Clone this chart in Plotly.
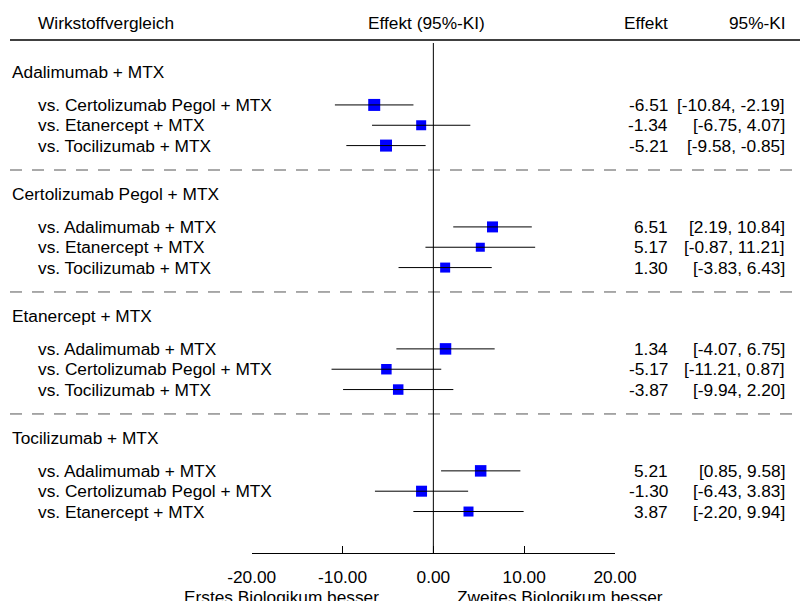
import plotly.graph_objects as go

# ---------------- data ----------------
groups = ["Adalimumab + MTX", "Certolizumab Pegol + MTX", "Etanercept + MTX", "Tocilizumab + MTX"]
comparisons = [
    ["vs. Certolizumab Pegol + MTX", "vs. Etanercept + MTX", "vs. Tocilizumab + MTX"],
    ["vs. Adalimumab + MTX", "vs. Etanercept + MTX", "vs. Tocilizumab + MTX"],
    ["vs. Adalimumab + MTX", "vs. Certolizumab Pegol + MTX", "vs. Tocilizumab + MTX"],
    ["vs. Adalimumab + MTX", "vs. Certolizumab Pegol + MTX", "vs. Etanercept + MTX"],
]
effect = [-6.51, -1.34, -5.21, 6.51, 5.17, 1.30, 1.34, -5.17, -3.87, 5.21, -1.30, 3.87]
ci_low = [-10.84, -6.75, -9.58, 2.19, -0.87, -3.83, -4.07, -11.21, -9.94, 0.85, -6.43, -2.20]
ci_high = [-2.19, 4.07, -0.85, 10.84, 11.21, 6.43, 6.75, 0.87, 2.20, 9.58, 3.83, 9.94]
tick_vals = [-20, -10, 0, 10, 20]
tick_text = ["-20.00", "-10.00", "0.00", "10.00", "20.00"]
header_left = "Wirkstoffvergleich"
header_mid = "Effekt (95%-KI)"
header_eff = "Effekt"
header_ci = "95%-KI"
label_left = "Erstes Biologikum besser"
label_right = "Zweites Biologikum besser"

# style: marker box sizes (px)
marker_px = [12, 10, 12, 11, 9, 10, 11.5, 10.5, 10.5, 11.5, 11, 10]

# ---------------- layout helpers ----------------
W, H = 800, 601
FONT = "Liberation Sans, Arial, sans-serif"
FS = 17.3
ROW_PX = 20.33
Y0_PX = 72.0       # pixel of first group header
AXIS_PX = 553.0    # pixel of x-axis line
GROUP_ROWS = 6
ITEM_OFF = 1.62


def px_to_row(p):
    return (p - Y0_PX) / ROW_PX


group_y = []
item_y = []
for g, comps in enumerate(comparisons):
    group_y.append(g * GROUP_ROWS)
    for k in range(len(comps)):
        item_y.append(g * GROUP_ROWS + ITEM_OFF + k)

fig = go.Figure()

# point estimates
fig.add_trace(go.Scatter(x=effect, y=item_y, mode="markers",
                         marker=dict(symbol="square", size=marker_px, color="#0000FF",
                                     opacity=1, line=dict(width=0)),
                         hoverinfo="skip", showlegend=False, cliponaxis=False))

# whiskers (drawn on top of the boxes)
wx, wy = [], []
for lo, hi, y in zip(ci_low, ci_high, item_y):
    wx += [lo, hi, None]
    wy += [y, y, None]
fig.add_trace(go.Scatter(x=wx, y=wy, mode="lines", line=dict(color="black", width=1),
                         hoverinfo="skip", showlegend=False, cliponaxis=False))

ann = []
def txt(x, y, s, xanchor="left", xref="paper", yref="y"):
    ann.append(dict(x=x, y=y, xref=xref, yref=yref, text=s, showarrow=False,
                    xanchor=xanchor, yanchor="middle",
                    font=dict(family=FONT, size=FS, color="black")))

# header
hy = px_to_row(23)
txt(36 / W, hy, header_left)
txt(427 / W, hy, header_mid, xanchor="center")
txt(670 / W, hy, header_eff, xanchor="right")
txt(788 / W, hy, header_ci, xanchor="right")

idx = 0
for g, comps in enumerate(comparisons):
    txt(10 / W, group_y[g], groups[g])
    for k, c in enumerate(comps):
        y = item_y[idx]
        txt(36 / W, y, c)
        txt(670 / W, y, f"{effect[idx]:.2f}", xanchor="right")
        txt(787 / W, y, f"[{ci_low[idx]:.2f}, {ci_high[idx]:.2f}]", xanchor="right")
        idx += 1

# bottom labels
txt(281 / W, (H - 597) / H, label_left, xanchor="center", yref="paper")
txt(560 / W, (H - 597) / H, label_right, xanchor="center", yref="paper")

shapes = []
# header rule
shapes.append(dict(type="line", xref="paper", yref="y", x0=10 / W, x1=800 / W,
                   y0=px_to_row(40), y1=px_to_row(40), line=dict(color="black", width=1.3)))
# dashed separators
for g in range(len(groups) - 1):
    yy = g * GROUP_ROWS + px_to_row(170)
    shapes.append(dict(type="line", xref="paper", yref="y", x0=10 / W, x1=800 / W,
                       y0=yy, y1=yy, line=dict(color="#555555", width=1, dash="12px,10px")))
# zero line
shapes.append(dict(type="line", xref="x", yref="y", x0=0, x1=0,
                   y0=px_to_row(43), y1=px_to_row(AXIS_PX), line=dict(color="black", width=1)))

fig.update_layout(
    width=W, height=H, autosize=False,
    margin=dict(l=0, r=0, t=0, b=0, pad=0, autoexpand=False),
    paper_bgcolor="white", plot_bgcolor="white",
    annotations=ann, shapes=shapes,
    font=dict(family=FONT, size=FS, color="black"),
    xaxis=dict(domain=[251.7 / W, 615.0 / W], range=[-20, 20], tickvals=tick_vals,
               ticktext=tick_text, ticks="inside", ticklen=7, tickcolor="black",
               showline=True, linecolor="black", linewidth=1, showgrid=False,
               zeroline=False, tickfont=dict(family=FONT, size=FS, color="black"),
               ticklabelstandoff=8, automargin=False, fixedrange=True),
    yaxis=dict(domain=[(H - AXIS_PX) / H, 1], range=[px_to_row(AXIS_PX), px_to_row(0)],
               visible=False, showgrid=False, zeroline=False, automargin=False,
               fixedrange=True),
)

fig.write_html("out.html", config={"responsive": False, "displayModeBar": False},
               post_script="document.body.style.margin='0px';document.body.style.overflow='hidden';")
